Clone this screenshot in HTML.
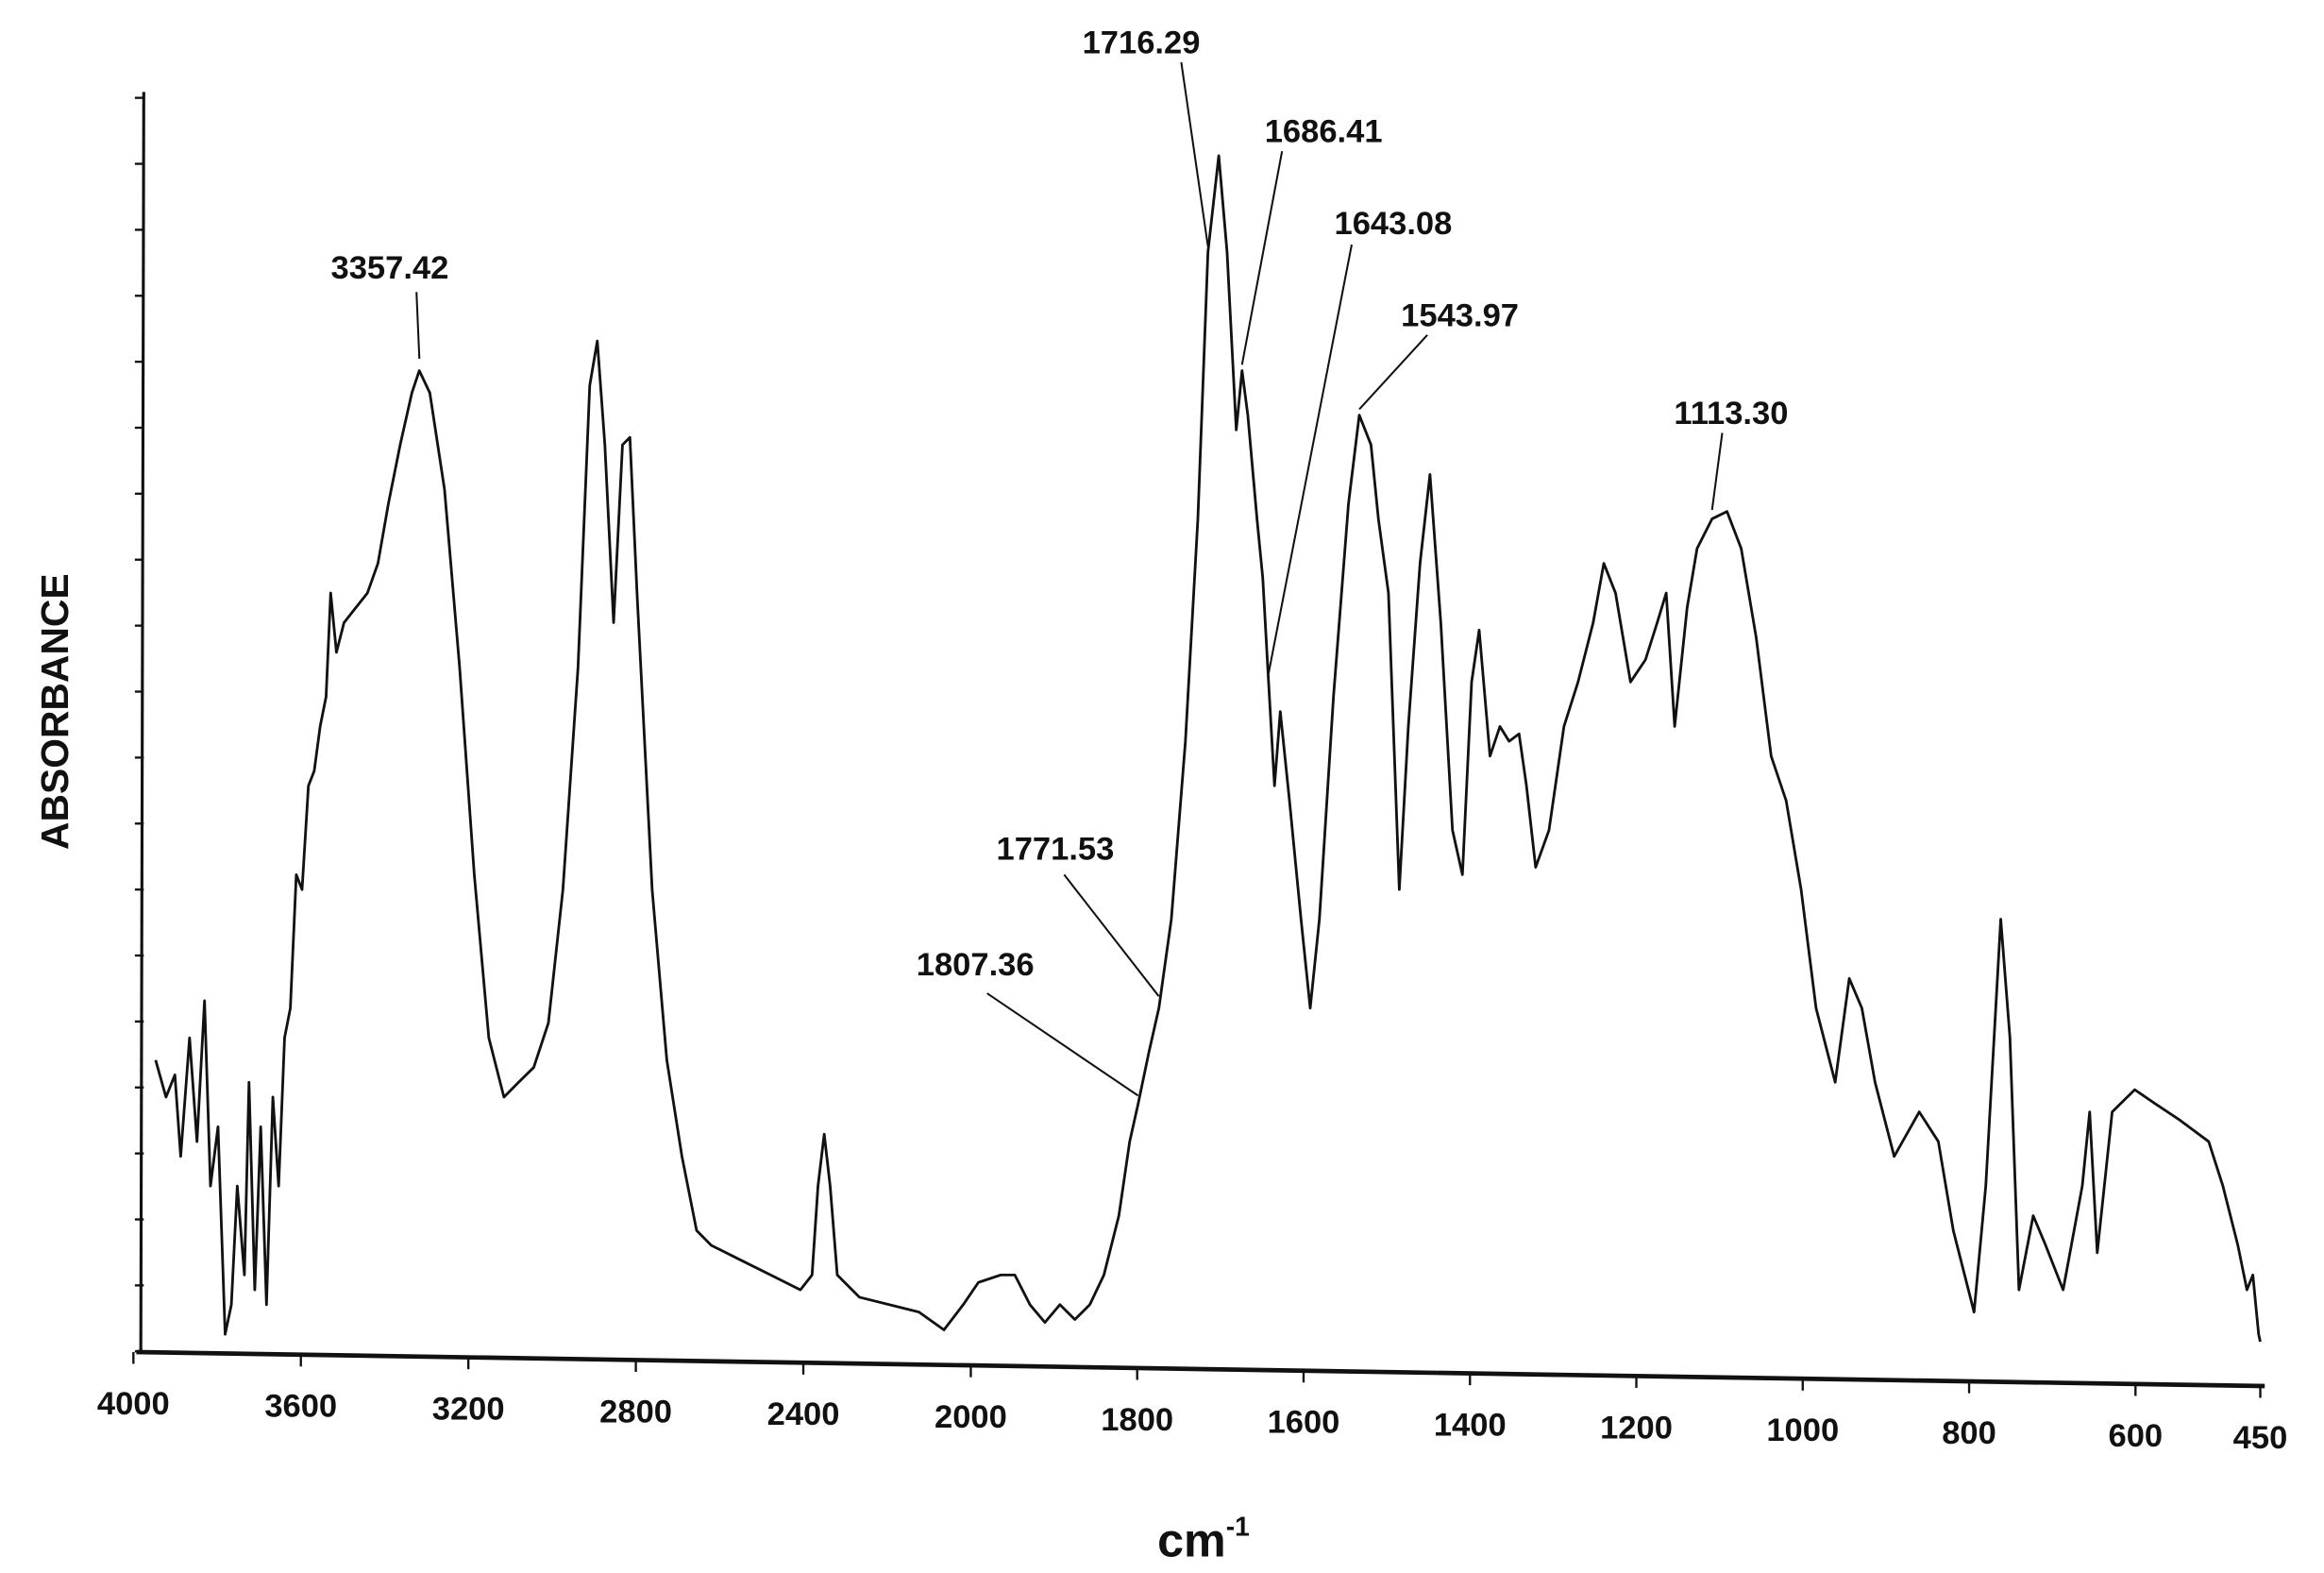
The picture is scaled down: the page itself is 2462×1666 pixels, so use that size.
<!DOCTYPE html>
<html><head><meta charset="utf-8"><style>
html,body{margin:0;padding:0;background:#fff;}
svg{display:block;}
text{font-family:"Liberation Sans",sans-serif;font-weight:bold;fill:#111;}
</style></head><body>
<svg id="chart" width="2462" height="1666" viewBox="0 0 1568 1061" preserveAspectRatio="none" xmlns="http://www.w3.org/2000/svg">
<g id="axes"></g>
<g id="plot"></g>
<g id="annots"></g>
<text transform="translate(46,480) rotate(-90)" text-anchor="middle" font-size="26">ABSORBANCE</text>
<text x="812" y="1050" text-anchor="middle" font-size="32">cm<tspan font-size="18" dy="-14">-1</tspan></text>
</svg>
<script>
const wn=[3947,3922,3901,3887,3866,3848,3830,3816,3798,3781,3766,3752,3735,3724,3710,3696,3682,3667,3653,3639,3625,3611,3597,3582,3568,3554,3540,3529,3515,3497,3469,3441,3416,3391,3363,3335,3317,3292,3257,3221,3186,3151,3115,3080,3044,3009,2974,2938,2910,2892,2874,2853,2832,2814,2797,2761,2726,2690,2655,2620,2549,2478,2407,2379,2365,2350,2336,2319,2266,2195,2124,2064,2018,1991,1964,1947,1929,1911,1893,1875,1857,1840,1822,1809,1799,1786,1774,1759,1742,1727,1715,1702,1692,1681,1674,1667,1656,1649,1642,1635,1628,1617,1603,1592,1581,1564,1546,1533,1519,1510,1498,1485,1474,1460,1448,1435,1421,1409,1398,1389,1376,1364,1353,1341,1332,1321,1305,1287,1270,1252,1239,1225,1207,1189,1175,1164,1154,1139,1127,1109,1091,1074,1056,1038,1020,1002,984,961,944,929,913,890,860,837,819,794,780,762,751,740,723,708,687,664,655,646,628,601,575,548,512,495,477,466,459,452,450];
const ab=[197,172,187,132,212,142,237,112,152,12,32,112,52,182,42,152,32,172,112,212,232,322,312,382,392,422,442,512,472,492,502,512,532,572,612,647,662,647,582,462,322,212,172,182,192,222,312,462,652,682,612,492,612,617,512,312,197,132,82,72,62,52,42,52,112,147,112,52,37,32,27,15,32,47,52,52,32,20,32,22,32,52,92,142,167,202,232,292,412,562,742,807,742,622,662,632,562,522,452,382,432,372,292,232,292,442,572,632,612,562,512,312,422,532,592,492,352,322,452,487,402,422,412,417,382,327,352,422,452,492,532,512,452,467,492,512,422,502,542,562,567,542,482,402,372,312,232,182,252,232,182,132,162,142,82,27,112,292,212,42,92,72,42,112,162,67,162,177,167,157,142,112,72,42,52,12,7];
const tickLabels=[4000,3600,3200,2800,2400,2000,1800,1600,1400,1200,1000,800,600,450];
const peakLabels=["3357.42","1716.29","1686.41","1643.08","1543.97","1113.30","1771.53","1807.36"];
const peakWn=[3317,1715,1674,1642,1533,1109,1774,1799];
const NS="http://www.w3.org/2000/svg";
function X(w){return w>=2000?655-(w-2000)*0.2825:655+(2000-w)*0.5613;}
function base(x){return 912+(x-95)*0.016;}
function Y(a){return 912-a;}
function mk(tag,attrs,parent){const e=document.createElementNS(NS,tag);for(const k in attrs)e.setAttribute(k,attrs[k]);parent.appendChild(e);return e;}
const axes=document.getElementById('axes'),plot=document.getElementById('plot'),ann=document.getElementById('annots');
let e=mk('line',{x1:97,y1:62,x2:95,y2:base(95),stroke:'#111','stroke-width':2},axes);

e=mk('line',{x1:92,y1:base(92),x2:1528,y2:base(1528),stroke:'#111','stroke-width':3},axes);

for(let i=0;i<20;i++){const y=66+i*44.5;const t=mk('line',{x1:91,y1:y,x2:97,y2:y,stroke:'#111','stroke-width':1.5},axes);
}
tickLabels.forEach(v=>{const x=X(v),b=base(x);
const t=mk('line',{x1:x,y1:b,x2:x,y2:b+8,stroke:'#111','stroke-width':1.5},axes);

const l=mk('text',{x:x,y:b+42,'text-anchor':'middle','font-size':22},axes);l.textContent=v;
});
let d='';wn.forEach((w,i)=>{const x=X(w);d+=(i?'L':'M')+x.toFixed(1)+' '+Y(ab[i]).toFixed(1);});
e=mk('path',{d:d,fill:'none',stroke:'#111','stroke-width':1.8,'stroke-linejoin':'round'},plot);

const lay=[[263,180,281,197,0,-8],[770,28,797,42,0,-4],[893,88,865,102,0,-4],[940,150,912,165,0,-6],[985,212,963,226,0,-4],[1168,278,1162,292,0,-6],[712,572,718,590,0,-8],[658,650,666,670,0,-6]];
peakLabels.forEach((s,i)=>{const L=lay[i];const px=X(peakWn[i]);
const idx=wn.indexOf(peakWn[i]);const py=Y(ab[idx])+L[5];
const ln=mk('line',{x1:L[2],y1:L[3],x2:px,y2:py,stroke:'#111','stroke-width':1.3},ann);

const t=mk('text',{x:L[0],y:L[1]+8,'text-anchor':'middle','font-size':22},ann);t.textContent=s;
});
</script>
</body></html>
